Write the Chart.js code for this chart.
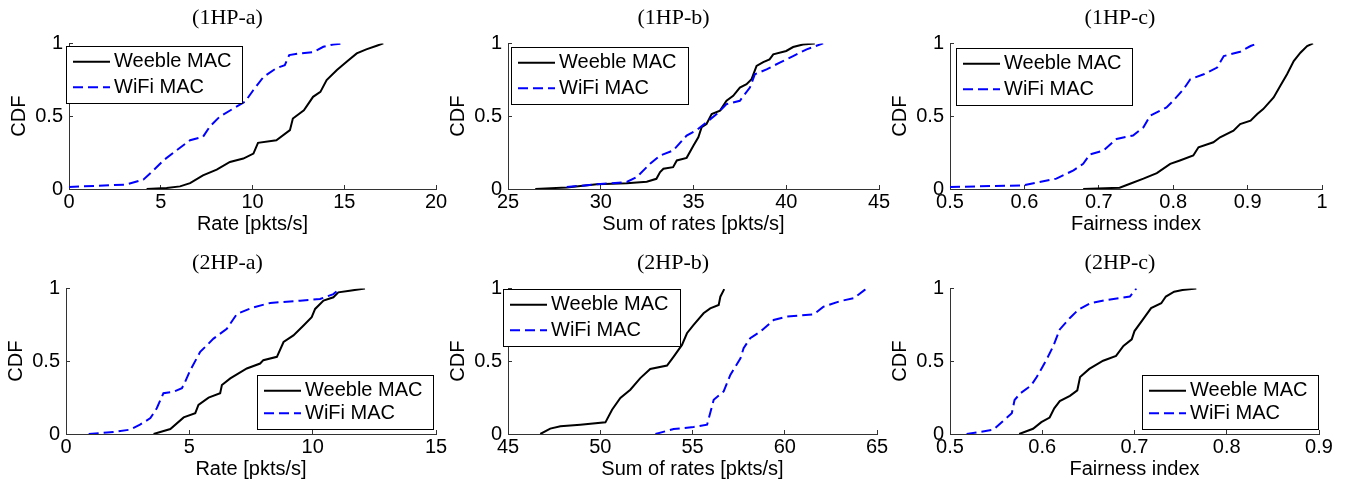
<!DOCTYPE html>
<html>
<head>
<meta charset="utf-8">
<script src="https://cdn.jsdelivr.net/npm/chart.js@4/dist/chart.umd.min.js"></script>
<style>
  html, body { margin: 0; padding: 0; background: #fff; }
  #wrap { position: relative; width: 1353px; height: 485px; overflow: hidden; background: #fff; }
  canvas { position: absolute; }
</style>
</head>
<body>
<div id="wrap">
  <canvas id="c1" width="453" height="239" style="left:3px;top:0px"></canvas>
  <canvas id="c2" width="457" height="239" style="left:442px;top:0px"></canvas>
  <canvas id="c3" width="466" height="239" style="left:884px;top:0px"></canvas>
  <canvas id="c4" width="456" height="239" style="left:0px;top:245px"></canvas>
  <canvas id="c5" width="456" height="239" style="left:442px;top:245px"></canvas>
  <canvas id="c6" width="466" height="239" style="left:884px;top:245px"></canvas>
</div>
<script>
// ---------- labels ----------
const seriesNames = ['Weeble MAC', 'WiFi MAC'];
const panelTitles = ['(1HP-a)', '(1HP-b)', '(1HP-c)', '(2HP-a)', '(2HP-b)', '(2HP-c)'];
const xAxisTitles = ['Rate [pkts/s]', 'Sum of rates [pkts/s]', 'Fairness index',
                     'Rate [pkts/s]', 'Sum of rates [pkts/s]', 'Fairness index'];
const yAxisTitle = 'CDF';
const yTickLabels = ['0', '0.5', '1'];
const xTicks1a = ['0', '5', '10', '15', '20'];
const xTicks1b = ['25', '30', '35', '40', '45'];
const xTicks1c = ['0.5', '0.6', '0.7', '0.8', '0.9', '1'];
const xTicks2a = ['0', '5', '10', '15'];
const xTicks2b = ['45', '50', '55', '60', '65'];
const xTicks2c = ['0.5', '0.6', '0.7', '0.8', '0.9'];

// ---------- data (1HP-a) ----------
const weeble1aX = [4.23,5.32,6.05,6.6,7.3,8.05,8.77,9.5,10.05,10.3,11.3,12.04,12.2,12.8,13.3,13.7,14.04,14.6,15.13,15.68,16.2,16.77,17.13];
const weeble1aY = [0,0.007,0.018,0.04,0.094,0.133,0.186,0.209,0.243,0.317,0.335,0.404,0.484,0.541,0.633,0.667,0.748,0.817,0.874,0.931,0.959,0.984,1];
const wifi1aX = [0,3.1,4.05,4.6,5.15,5.87,6.6,7.3,7.68,8.2,8.96,9.6,10.05,10.6,11.3,11.76,12.0,12.5,13.3,13.86,14.4,14.95];
const wifi1aY = [0.014,0.03,0.064,0.128,0.197,0.266,0.335,0.358,0.43,0.495,0.553,0.6,0.68,0.77,0.83,0.85,0.92,0.93,0.94,0.977,0.993,1];

// ---------- data (1HP-b) ----------
const weeble1bX = [26.47,28.17,29.79,31.4,32.48,33.0,33.2,33.38,33.9,34.1,34.63,35.0,35.26,35.44,35.7,35.98,36.43,36.78,37.14,37.5,37.86,38.13,38.4,38.76,39.1,39.3,40.0,40.37,40.9,41.54];
const weeble1bY = [0,0.011,0.032,0.039,0.05,0.07,0.116,0.139,0.15,0.196,0.214,0.298,0.355,0.424,0.446,0.515,0.538,0.606,0.64,0.697,0.72,0.754,0.845,0.872,0.89,0.925,0.948,0.975,0.993,1];
const wifi1bX = [28.17,29.79,31.4,31.94,32.66,33.2,33.9,34.63,35.17,35.7,36.25,36.78,37.5,38.04,38.31,38.94,39.65,40.37,41.1,41.99];
const wifi1bY = [0.014,0.032,0.048,0.082,0.173,0.23,0.264,0.367,0.405,0.458,0.515,0.583,0.606,0.697,0.788,0.822,0.868,0.913,0.959,1];

// ---------- data (1HP-c) ----------
const weeble1cX = [0.679,0.728,0.742,0.76,0.778,0.796,0.809,0.827,0.834,0.854,0.863,0.881,0.89,0.904,0.913,0.921,0.935,0.944,0.953,0.962,0.971,0.98,0.988];
const weeble1cY = [0,0.009,0.036,0.071,0.109,0.173,0.196,0.23,0.287,0.321,0.355,0.4,0.446,0.469,0.515,0.549,0.629,0.709,0.788,0.879,0.936,0.982,1];
const wifi1cX = [0.5,0.598,0.62,0.643,0.666,0.679,0.688,0.706,0.724,0.746,0.76,0.769,0.791,0.8,0.814,0.823,0.841,0.859,0.868,0.89,0.904,0.913];
const wifi1cY = [0.014,0.025,0.048,0.071,0.128,0.173,0.237,0.264,0.344,0.367,0.424,0.503,0.56,0.606,0.686,0.754,0.788,0.834,0.913,0.943,0.982,1];

// ---------- data (2HP-a) ----------
const weeble2aX = [3.55,4.23,4.77,5.24,5.37,5.78,6.25,6.32,6.66,7.33,7.87,8.0,8.55,8.82,9.22,9.63,9.96,10.1,10.44,10.84,11.04,11.5,12.12];
const weeble2aY = [0,0.034,0.114,0.143,0.2,0.25,0.28,0.336,0.382,0.45,0.484,0.507,0.53,0.632,0.677,0.745,0.802,0.859,0.916,0.939,0.973,0.984,1];
const wifi2aX = [0.92,1.93,2.6,3.0,3.42,3.68,3.95,4.36,4.7,4.83,5.04,5.44,5.98,6.52,6.93,7.6,8.28,9.49,10.3,10.84,11.11];
const wifi2aY = [0,0.014,0.03,0.064,0.109,0.177,0.28,0.29,0.314,0.359,0.439,0.564,0.655,0.723,0.825,0.87,0.9,0.916,0.927,0.961,1];

// ---------- data (2HP-b) ----------
const weeble2bX = [46.75,47.29,47.84,48.92,50.28,50.64,51.09,51.63,52.17,52.71,53.62,53.98,54.43,54.7,55.06,55.6,55.96,56.42,56.51,56.72];
const weeble2bY = [0,0.037,0.053,0.064,0.08,0.167,0.247,0.304,0.384,0.447,0.47,0.532,0.612,0.692,0.749,0.829,0.863,0.886,0.943,0.995];
const wifi2bX = [52.99,53.98,55.06,55.79,56.15,56.69,57.05,57.6,57.77,58.13,58.68,59.4,60.12,61.57,62.1,63.01,63.73,64.37];
const wifi2bY = [0,0.034,0.048,0.064,0.235,0.292,0.406,0.52,0.589,0.658,0.703,0.783,0.806,0.822,0.874,0.913,0.932,0.993];

// ---------- data (2HP-c) ----------
const weeble2cX = [0.575,0.59,0.599,0.608,0.613,0.619,0.63,0.638,0.641,0.651,0.666,0.68,0.688,0.697,0.7,0.709,0.718,0.729,0.734,0.743,0.752,0.767];
const weeble2cY = [0,0.036,0.081,0.113,0.176,0.226,0.262,0.3,0.391,0.447,0.503,0.537,0.605,0.65,0.707,0.786,0.865,0.898,0.944,0.977,0.989,1];
const wifi2cX = [0.518,0.547,0.557,0.567,0.57,0.576,0.588,0.594,0.599,0.605,0.612,0.619,0.63,0.639,0.652,0.67,0.695,0.702];
const wifi2cY = [0,0.029,0.086,0.142,0.233,0.278,0.334,0.391,0.447,0.515,0.605,0.718,0.797,0.853,0.898,0.921,0.944,1];

// ---------- helpers ----------
const SANS = '"Liberation Sans", Arial, Helvetica, sans-serif';
const SERIF = '"Liberation Serif", "Times New Roman", serif';
const FS = 20;

function toPts(xs, ys) { return xs.map((x, i) => ({ x: x, y: ys[i] })); }

const boxLegend = {
  id: 'boxLegend',
  afterDatasetsDraw(chart, args, o) {
    const { ctx, chartArea: ca } = chart;
    const w = o.w, h = o.h;
    const x = Math.round(o.corner === 'se' ? ca.right - o.dx - w : ca.left + o.dx);
    const y = Math.round(o.corner === 'se' ? ca.bottom - o.dy - h : ca.top + o.dy);
    ctx.save();
    ctx.fillStyle = '#fff';
    ctx.fillRect(x, y, w, h);
    ctx.strokeStyle = '#000';
    ctx.lineWidth = 1;
    ctx.strokeRect(x + 0.5, y + 0.5, w, h);
    const rows = [y + 15.7, y + h - 15.7];
    chart.data.datasets.forEach((ds, i) => {
      const ry = rows[i];
      ctx.beginPath();
      ctx.setLineDash(ds.borderDash || []);
      ctx.strokeStyle = ds.borderColor;
      ctx.lineWidth = ds.borderWidth;
      ctx.moveTo(x + 7, ry);
      ctx.lineTo(x + 44, ry);
      ctx.stroke();
      ctx.setLineDash([]);
      ctx.fillStyle = '#000';
      ctx.font = FS + 'px ' + SANS;
      ctx.textBaseline = 'middle';
      ctx.textAlign = 'left';
      ctx.fillText(ds.label, x + 48, ry);
    });
    ctx.restore();
  }
};

// yw: width of the y-axis box, rw: width of an empty right gutter (both shift the title centre).
function build(id, title, xTitle, xTickLabels, wX, wY, fX, fY, yw, rw, legend) {
  const xVals = xTickLabels.map(parseFloat);
  const yVals = yTickLabels.map(parseFloat);
  new Chart(document.getElementById(id), {
    type: 'line',
    data: {
      datasets: [
        { label: seriesNames[0], data: toPts(wX, wY), borderColor: '#000000', borderWidth: 2,
          pointRadius: 0, tension: 0, fill: false, order: 1 },
        { label: seriesNames[1], data: toPts(fX, fY), borderColor: '#0000ff', borderWidth: 2,
          borderDash: [10, 5], pointRadius: 0, tension: 0, fill: false, order: 0 }
      ]
    },
    options: {
      responsive: false,
      animation: false,
      events: [],
      layout: { padding: { left: 66 - yw, right: 20, top: 0, bottom: 0 } },
      plugins: {
        legend: { display: false },
        tooltip: { enabled: false },
        title: { display: true, text: title, color: '#000',
                 font: { family: SERIF, size: 22, weight: 'normal' },
                 padding: { top: 5, bottom: 12 } },
        boxLegend: legend
      },
      scales: {
        x: {
          type: 'linear',
          min: xVals[0], max: xVals[xVals.length - 1],
          afterBuildTicks: (s) => { s.ticks = xVals.map(v => ({ value: v })); },
          afterFit: (s) => { s.height = 50; },
          ticks: { color: '#000', font: { family: SANS, size: FS }, padding: 5, maxRotation: 0,
                   autoSkip: false,
                   callback: (v) => { const i = xVals.indexOf(v); return i >= 0 ? xTickLabels[i] : ''; } },
          grid: { display: true, drawOnChartArea: false, drawTicks: true, tickLength: -4, color: '#333', lineWidth: 1 },
          border: { display: true, color: '#333', width: 1 },
          title: { display: true, text: xTitle, color: '#000', font: { family: SANS, size: FS },
                   padding: { top: 0, bottom: 3 } }
        },
        y: {
          type: 'linear',
          min: 0, max: 1,
          afterBuildTicks: (s) => { s.ticks = yVals.map(v => ({ value: v })); },
          afterFit: (s) => { s.width = yw; },
          ticks: { color: '#000', font: { family: SANS, size: FS }, padding: 10,
                   callback: (v) => { const i = yVals.indexOf(v); return i >= 0 ? yTickLabels[i] : ''; } },
          grid: { display: true, drawOnChartArea: false, drawTicks: true, tickLength: -4, color: '#333', lineWidth: 1 },
          border: { display: true, color: '#333', width: 1 },
          title: { display: true, text: yAxisTitle, color: '#000', font: { family: SANS, size: FS },
                   padding: { top: yw - 62, bottom: 0 } }
        },
        gutter: {
          type: 'linear',
          position: 'right',
          display: rw > 0,
          afterFit: (s) => { s.width = rw; },
          ticks: { display: false },
          grid: { display: false },
          border: { display: false },
          title: { display: false }
        }
      }
    },
    plugins: [boxLegend]
  });
}

build('c1', panelTitles[0], xAxisTitles[0], xTicks1a, weeble1aX, weeble1aY, wifi1aX, wifi1aY, 50, 0,
      { corner: 'nw', dx: -3, dy: 3, w: 176, h: 57 });
build('c2', panelTitles[1], xAxisTitles[1], xTicks1b, weeble1bX, weeble1bY, wifi1bX, wifi1bY, 40, 0,
      { corner: 'nw', dx: 3, dy: 4, w: 177, h: 57 });
build('c3', panelTitles[2], xAxisTitles[2], xTicks1c, weeble1cX, weeble1cY, wifi1cX, wifi1cY, 40, 8,
      { corner: 'nw', dx: 6, dy: 5, w: 176, h: 57 });
build('c4', panelTitles[3], xAxisTitles[3], xTicks2a, weeble2aX, weeble2aY, wifi2aX, wifi2aY, 47, 0,
      { corner: 'se', dx: 3, dy: 5, w: 176, h: 54 });
build('c5', panelTitles[4], xAxisTitles[4], xTicks2b, weeble2bX, weeble2bY, wifi2bX, wifi2bY, 40, 1,
      { corner: 'nw', dx: -5, dy: 1, w: 177, h: 57 });
build('c6', panelTitles[5], xAxisTitles[5], xTicks2c, weeble2cX, weeble2cY, wifi2cX, wifi2cY, 40, 11,
      { corner: 'se', dx: 1, dy: 5, w: 176, h: 54 });
</script>
</body>
</html>
